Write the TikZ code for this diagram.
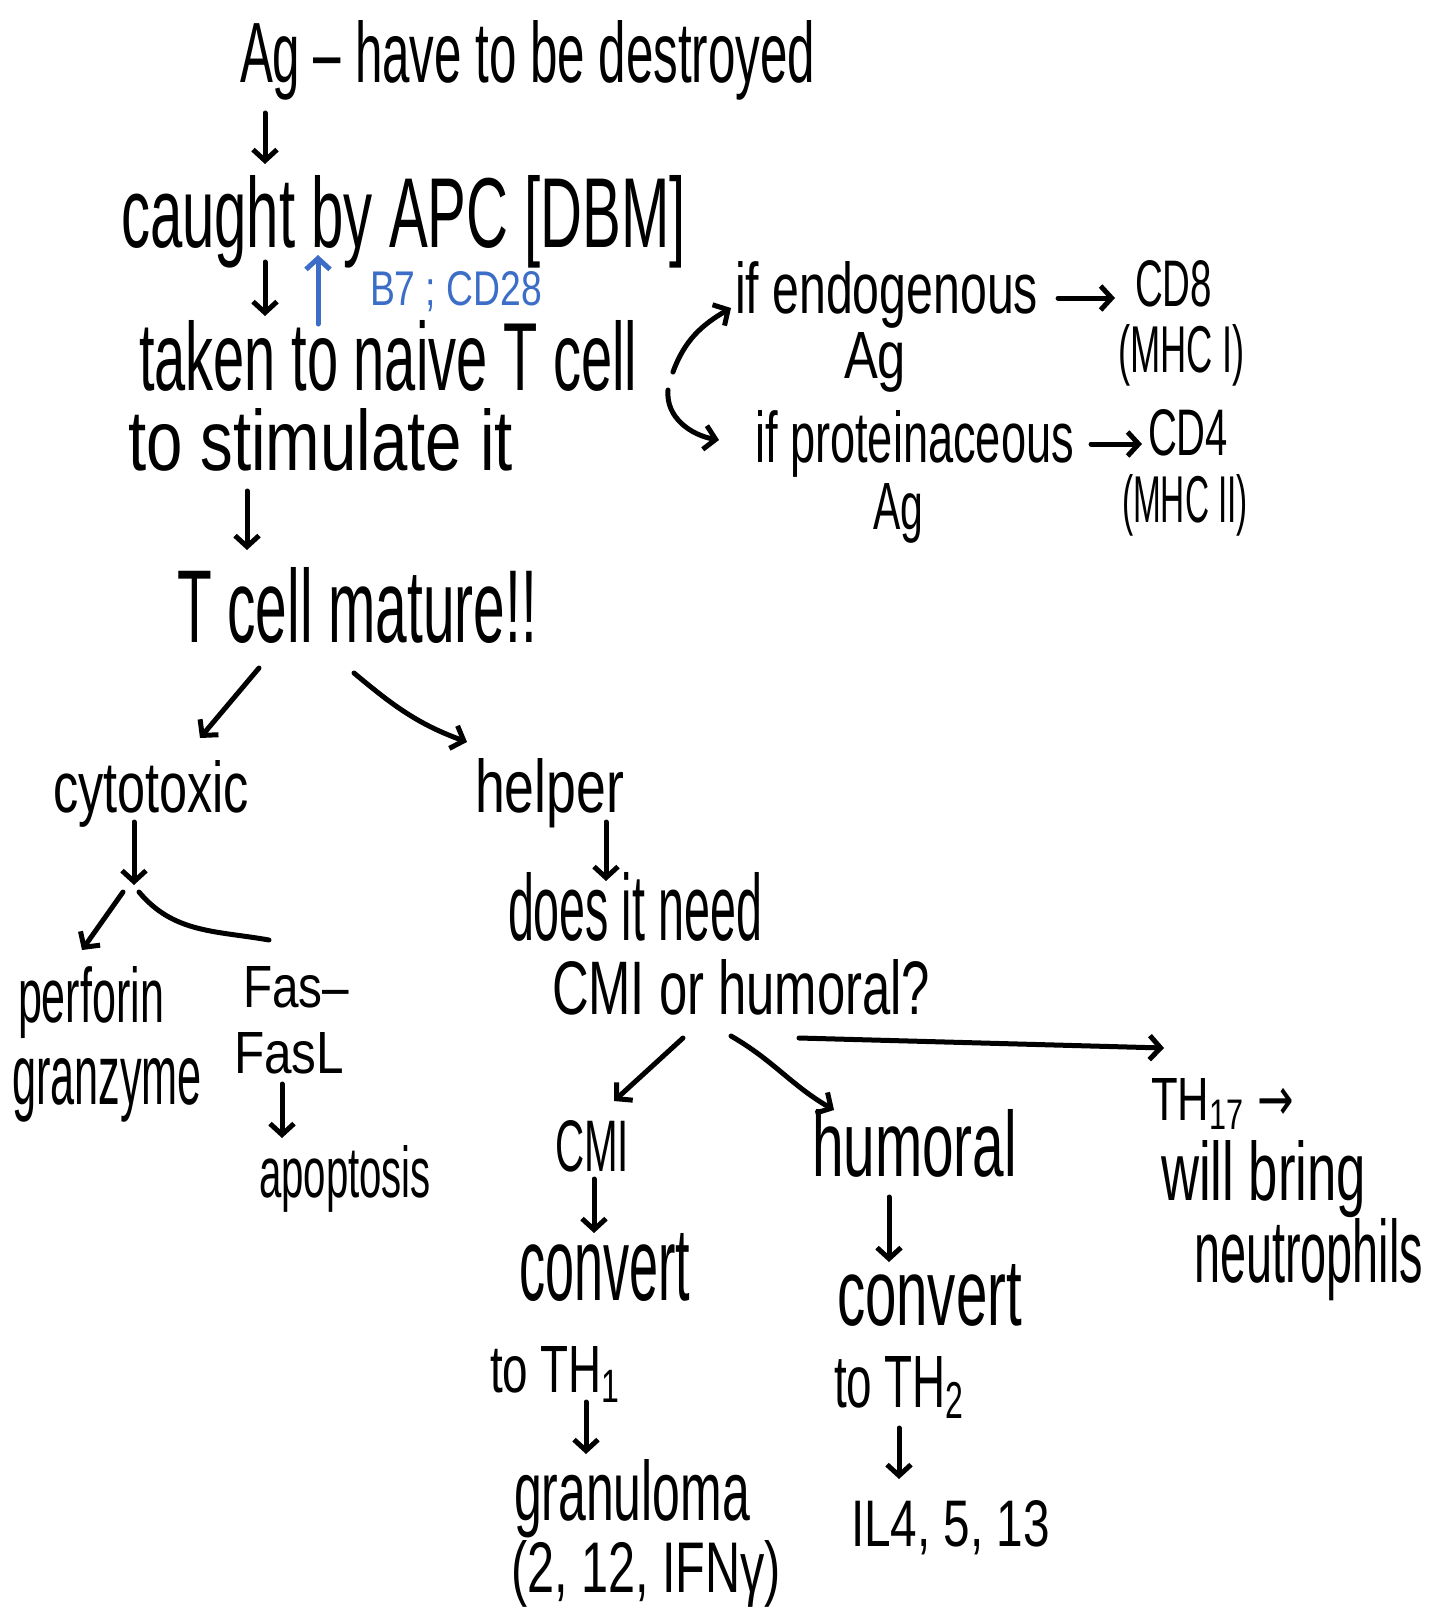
\documentclass[tikz,border=0pt]{standalone}
\usepackage{fontspec}
\setmainfont{Liberation Sans}
\newfontfamily\arrowfont{DejaVu Sans}
\usepackage{graphicx}
\usetikzlibrary{arrows.meta,calc}
\definecolor{blueink}{RGB}{60,110,200}
\newcommand{\hw}[3]{\resizebox{#1pt}{#2pt}{#3}}
\begin{document}
\begin{tikzpicture}[x=1pt,y=1pt,
  txt/.style={anchor=base west,inner sep=0pt,outer sep=0pt},
  ink/.style={line width=5pt,line cap=round,line join=round},
  arr/.style={ink,-{Straight Barb[length=11pt,width=24pt]}}]
\useasboundingbox[fill=white] (0,0) rectangle (1429,-1611);

% ---- text nodes ----
\node[txt] (ag)     at (240,-82)   {\hw{575}{62}{Ag – have to be destroyed}};
\node[txt] (caught) at (121,-247)  {\hw{565}{72}{caught by APC [DBM]}};
\node[txt,text=blueink] (b7) at (370,-305) {\hw{172}{34}{B7 ; CD28}};
\node[txt] (taken)  at (139,-390)  {\hw{498}{70}{taken to naive T cell}};
\node[txt] (stim)   at (128,-470)  {\hw{385}{62}{to stimulate it}};
\node[txt] (mature) at (177,-642)  {\hw{360}{75}{T cell mature!!}};

\node[txt] (endo)   at (735,-313)  {\hw{303}{52}{if endogenous}};
\node[txt] (cd8)    at (1135,-306) {\hw{77}{46}{CD8}};
\node[txt] (agA)    at (844,-378)  {\hw{62}{46}{Ag}};
\node[txt] (mhc1)   at (1118,-372) {\hw{127}{48}{(MHC I)}};
\node[txt] (prot)   at (755,-462)  {\hw{319}{52}{if proteinaceous}};
\node[txt] (cd4)    at (1148,-455) {\hw{80}{46}{CD4}};
\node[txt] (agB)    at (873,-529)  {\hw{50}{46}{Ag}};
\node[txt] (mhc2)   at (1122,-522) {\hw{126}{48}{(MHC II)}};

\node[txt] (cyto)   at (53,-812)   {\hw{196}{52}{cytotoxic}};
\node[txt] (helper) at (475,-812)  {\hw{149}{54}{helper}};
\node[txt] (perf)   at (18,-1022)  {\hw{146}{56}{perforin}};
\node[txt] (gran)   at (12,-1104)  {\hw{190}{46}{granzyme}};
\node[txt] (fas)    at (243,-1007) {\hw{106}{41}{Fas–}};
\node[txt] (fasl)   at (234,-1073) {\hw{110}{41}{FasL}};
\node[txt] (apop)   at (259,-1197) {\hw{172}{52}{apoptosis}};

\node[txt] (does)   at (508,-940)  {\hw{254}{68}{does it need}};
\node[txt] (cmiq)   at (552,-1014) {\hw{378}{55}{CMI or humoral?}};
\node[txt] (cmi)    at (555,-1171) {\hw{74}{51}{CMI}};
\node[txt] (hum)    at (812,-1176) {\hw{205}{67}{humoral}};
\node[txt] (th17)   at (1151,-1120){\hw{143}{42}{TH\textsubscript{17} {\arrowfont →}}};
\node[txt] (will)   at (1161,-1200){\hw{205}{60}{will bring}};
\node[txt] (neut)   at (1194,-1282){\hw{229}{64}{neutrophils}};

\node[txt] (conv1)  at (519,-1300) {\hw{171}{67}{convert}};
\node[txt] (toth1)  at (490,-1392) {\hw{132}{46}{to TH\textsubscript{1}}};
\node[txt] (granu)  at (514,-1520) {\hw{236}{61}{granuloma}};
\node[txt] (par1)   at (511,-1592) {\hw{270}{52}{(2, 12, IFNγ)}};
\node[txt] (conv2)  at (837,-1325) {\hw{185}{61}{convert}};
\node[txt] (toth2)  at (834,-1407) {\hw{132}{51}{to TH\textsubscript{2}}};
\node[txt] (il)     at (851,-1546) {\hw{199}{46}{IL4, 5, 13}};

% ---- connectors ----
\draw[arr] ($(ag.base west)+(25,-31)$) -- ($(caught.base west)+(144,83)$);
\draw[arr] ($(caught.base west)+(144,-15)$) -- ($(taken.base west)+(126,74)$);
\draw[arr,draw=blueink] ($(taken.base west)+(179,66)$) -- ($(caught.base west)+(197,-8)$);
\draw[arr] ($(stim.base west)+(119,-21)$) -- ($(mature.base west)+(70,92)$);

\draw[arr] ($(taken.base west)+(534,18)$) to[out=70,in=210] ($(endo.base west)+(-4,5)$);
\draw[arr] ($(taken.base west)+(529,0)$) to[out=-95,in=170] ($(prot.base west)+(-36,22)$);
\draw[arr] ($(endo.base east)+(20,15)$) -- ($(cd8.base west)+(-20,8)$);
\draw[arr] ($(prot.base east)+(17,18)$) -- ($(cd4.base west)+(-6,11)$);

\draw[arr] ($(mature.base west)+(82,-26)$) -- ($(cyto.base west)+(147,74)$);
\draw[arr] ($(mature.base west)+(177,-31)$) to[out=-40,in=160] ($(helper.base west)+(-8,70)$);

\coordinate (cj) at ($(cyto.base west)+(81,-73)$);
\draw[arr] ($(cyto.base west)+(81,-10)$) -- (cj);
\draw[arr] ($(cj)+(-11,-7)$) -- ($(perf.base west)+(64,72)$);
\draw[ink] ($(cj)+(5,-7)$) to[out=-50,in=170] ($(fas.base west)+(26,67)$);
\draw[arr] ($(fasl.base west)+(48,-11)$) -- ($(apop.base west)+(23,59)$);

\draw[arr] ($(helper.base west)+(131,-10)$) -- ($(does.base west)+(98,59)$);
\draw[arr] ($(cmiq.base west)+(131,-24)$) -- ($(cmi.base west)+(59,70)$);
\draw[arr] ($(cmiq.base west)+(179,-22)$) to[out=-30,in=150] ($(hum.base west)+(22,66)$);
\draw[arr] ($(cmiq.base west)+(247,-24)$) -- ($(th17.base west)+(13,72)$);

\draw[arr] ($(cmi.base west)+(39,-8)$) -- ($(conv1.base west)+(75,67)$);
\draw[arr] ($(toth1.base west)+(96,-10)$) -- ($(granu.base west)+(72,66)$);
\draw[arr] ($(hum.base west)+(77,-21)$) -- ($(conv2.base west)+(52,63)$);
\draw[arr] ($(toth2.base west)+(65,-21)$) -- ($(il.base west)+(48,67)$);
\end{tikzpicture}
\end{document}
